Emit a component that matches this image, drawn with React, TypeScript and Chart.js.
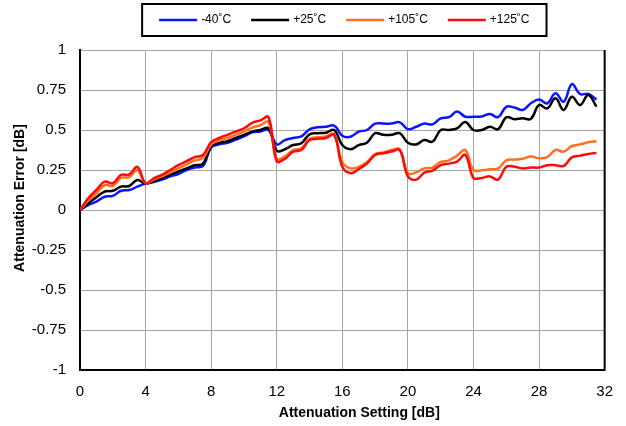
import React, { useEffect, useRef } from "react";
import { Chart, registerables } from "chart.js";

Chart.register(...registerables);

const settings = [
  0, 0.5, 1, 1.5, 2, 2.5, 3, 3.5, 4, 4.5, 5, 5.5, 6, 6.5, 7, 7.5,
  8, 8.5, 9, 9.5, 10, 10.5, 11, 11.5, 12, 12.5, 13, 13.5, 14, 14.5, 15, 15.5,
  16, 16.5, 17, 17.5, 18, 18.5, 19, 19.5, 20, 20.5, 21, 21.5, 22, 22.5, 23, 23.5,
  24, 24.5, 25, 25.5, 26, 26.5, 27, 27.5, 28, 28.5, 29, 29.5, 30, 30.5, 31, 31.5,
];

const errM40 = [
  0, 0.031, 0.052, 0.083, 0.088, 0.12, 0.125, 0.146, 0.165, 0.175, 0.19, 0.21, 0.225, 0.25, 0.265, 0.275,
  0.39, 0.41, 0.42, 0.44, 0.46, 0.485, 0.49, 0.5, 0.41, 0.437, 0.45, 0.46, 0.504, 0.517, 0.52, 0.527,
  0.464, 0.458, 0.49, 0.5, 0.54, 0.54, 0.54, 0.548, 0.505, 0.52, 0.54, 0.535, 0.573, 0.58, 0.615, 0.583,
  0.583, 0.585, 0.6, 0.58, 0.645, 0.64, 0.625, 0.667, 0.69, 0.667, 0.73, 0.677, 0.787, 0.725, 0.725, 0.69,
];

const errP25 = [
  0, 0.042, 0.08, 0.115, 0.12, 0.146, 0.15, 0.1875, 0.165, 0.18, 0.2, 0.22, 0.24, 0.26, 0.28, 0.29,
  0.4, 0.42, 0.43, 0.45, 0.47, 0.49, 0.5, 0.51, 0.37, 0.38, 0.406, 0.417, 0.473, 0.48, 0.483, 0.5,
  0.406, 0.38, 0.406, 0.42, 0.48, 0.47, 0.47, 0.48, 0.42, 0.41, 0.4375, 0.427, 0.5, 0.5, 0.51, 0.55,
  0.5, 0.5, 0.52, 0.505, 0.58, 0.567, 0.573, 0.57, 0.656, 0.635, 0.698, 0.625, 0.708, 0.656, 0.719, 0.646,
];

const errP105 = [
  0, 0.058, 0.104, 0.156, 0.15, 0.2, 0.205, 0.25, 0.167, 0.19, 0.21, 0.235, 0.26, 0.285, 0.31, 0.325,
  0.41, 0.435, 0.45, 0.47, 0.49, 0.515, 0.53, 0.55, 0.32, 0.335, 0.375, 0.385, 0.445, 0.455, 0.46, 0.475,
  0.3, 0.26, 0.27, 0.3, 0.35, 0.36, 0.375, 0.38, 0.23, 0.235, 0.26, 0.265, 0.3, 0.31, 0.34, 0.375,
  0.25, 0.248, 0.255, 0.26, 0.31, 0.315, 0.32, 0.335, 0.323, 0.33, 0.375, 0.365, 0.4, 0.41, 0.423, 0.43,
];

const errP125 = [
  0, 0.073, 0.125, 0.177, 0.167, 0.219, 0.222, 0.27, 0.167, 0.198, 0.22, 0.25, 0.28, 0.305, 0.33, 0.344,
  0.425, 0.45, 0.47, 0.49, 0.51, 0.545, 0.56, 0.58, 0.305, 0.32, 0.365, 0.375, 0.4375, 0.445, 0.45, 0.469,
  0.27, 0.23, 0.256, 0.29, 0.344, 0.355, 0.365, 0.375, 0.21, 0.19, 0.233, 0.246, 0.28, 0.29, 0.302, 0.344,
  0.2, 0.2, 0.21, 0.19, 0.27, 0.27, 0.26, 0.265, 0.266, 0.28, 0.28, 0.275, 0.329, 0.34, 0.35, 0.357,
];

const seriesLabels = ["-40˚C", "+25˚C", "+105˚C", "+125˚C"];
const seriesColors = ["#0a14ff", "#000000", "#ff7020", "#ff0a0a"];
const seriesValues = [errM40, errP25, errP105, errP125];

const xTitle = "Attenuation Setting [dB]";
const yTitle = "Attenuation Error [dB]";

const FONT = "'Liberation Sans', Arial, sans-serif";

const legendAndFrame = {
  id: "legendAndFrame",
  afterDraw(chart: any) {
    const ctx = chart.ctx;
    const area = chart.chartArea;
    ctx.save();
    // right frame line
    ctx.strokeStyle = "#000";
    ctx.lineWidth = 2;
    ctx.beginPath();
    ctx.moveTo(area.right, area.top);
    ctx.lineTo(area.right, area.bottom + 1);
    ctx.stroke();

    // axis titles
    ctx.fillStyle = "#000";
    ctx.font = `bold 14px ${FONT}`;
    ctx.textAlign = "center";
    ctx.textBaseline = "middle";
    ctx.fillText(xTitle, (area.left + area.right) / 2 + 17, 413);
    ctx.save();
    ctx.translate(20, (area.top + area.bottom) / 2 - 12);
    ctx.rotate(-Math.PI / 2);
    ctx.fillText(yTitle, 0, 0);
    ctx.restore();

    // legend
    ctx.font = `12px ${FONT}`;
    const lineLen = 38;
    const gapText = 4;
    const gapItem = 20;
    const items = chart.data.datasets.map((ds: any) => ({
      label: ds.label,
      color: ds.borderColor,
      w: ctx.measureText(ds.label).width,
    }));
    const inner = items.reduce((s: number, it: any) => s + lineLen + gapText + it.w, 0) + gapItem * (items.length - 1);
    const padX = 17;
    const boxW = inner + padX * 2;
    const cx = (area.left + area.right) / 2 + 2;
    const boxL = cx - boxW / 2;
    const boxT = 4;
    const boxH = 32;
    ctx.strokeStyle = "#000";
    ctx.lineWidth = 2;
    ctx.strokeRect(boxL, boxT, boxW, boxH);
    let x = boxL + padX;
    const y = boxT + boxH / 2;
    items.forEach((it: any) => {
      ctx.strokeStyle = it.color;
      ctx.lineWidth = 2.5;
      ctx.beginPath();
      ctx.moveTo(x, y);
      ctx.lineTo(x + lineLen, y);
      ctx.stroke();
      ctx.fillStyle = "#000";
      ctx.textBaseline = "middle";
      ctx.textAlign = "left";
      ctx.fillText(it.label, x + lineLen + gapText, y);
      x += lineLen + gapText + it.w + gapItem;
    });
    ctx.restore();
  },
};

export default function App() {
  const ref = useRef<HTMLCanvasElement>(null);
  useEffect(() => {
    if (!ref.current) return;
    const datasets = seriesValues.map((vals, i) => ({
      label: seriesLabels[i],
      data: vals.map((v, j) => ({ x: settings[j], y: v })),
      borderColor: seriesColors[i],
      backgroundColor: seriesColors[i],
      borderWidth: 2.5,
      pointRadius: 0,
      tension: 0.4,
      fill: false,
      order: seriesValues.length - i,
    }));
    const chart = new Chart(ref.current, {
      type: "line",
      data: { datasets },
      plugins: [legendAndFrame],
      options: {
        animation: false,
        responsive: false,
        layout: { padding: { top: 50, right: 14, left: 0, bottom: 0 } },
        plugins: { legend: { display: false }, tooltip: { enabled: false } },
        scales: {
          x: {
            type: "linear",
            min: 0,
            max: 32,
            afterFit: (s: any) => { s.height = 56; },
            ticks: { stepSize: 4, color: "#000", font: { family: FONT, size: 15 }, padding: 13, maxRotation: 0 },
            grid: { color: "#a6a6a6", lineWidth: 1, drawTicks: false },
            border: { color: "#000", width: 2 },
            title: { display: false, text: xTitle },
          },
          y: {
            min: -1,
            max: 1,
            afterFit: (s: any) => { s.width = 80; },
            ticks: {
              stepSize: 0.25,
              color: "#000",
              font: { family: FONT, size: 15 },
              padding: 14,
              callback: (v: any) => String(Number(Number(v).toFixed(2))),
            },
            grid: { color: "#a6a6a6", lineWidth: 1, drawTicks: false },
            border: { color: "#000", width: 2 },
            title: { display: false, text: yTitle },
          },
        },
      },
    } as any);
    return () => chart.destroy();
  }, []);
  return (
    <div style={{ position: "fixed", left: 0, top: 0, width: 626, height: 426, background: "#fff" }}>
      <canvas ref={ref} width={626} height={426} style={{ width: 626, height: 426 }} />
    </div>
  );
}
